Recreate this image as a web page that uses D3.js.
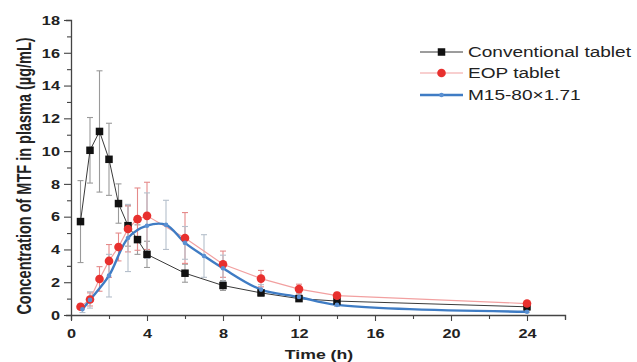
<!DOCTYPE html>
<html>
<head>
<meta charset="utf-8">
<script src="https://cdn.jsdelivr.net/npm/d3@7"></script>
<style>
  html, body { margin: 0; padding: 0; background: #fff; }
  svg { display: block; }
  text { font-family: "Liberation Sans", Arial, sans-serif; fill: #222; }
</style>
</head>
<body>
<svg id="chart" width="637" height="362"></svg>
<script>
// Plasma MTF concentration–time profiles (mean ± SD)
const convTime = [0.5, 1, 1.5, 2, 2.5, 3, 3.5, 4, 6, 8, 10, 12, 14, 24];
const convMean = [5.7, 10.05, 11.2, 9.5, 6.8, 5.45, 4.6, 3.7, 2.55, 1.8, 1.35, 1.0, 0.85, 0.5];
const convSD   = [2.5, 2.0, 3.7, 2.2, 1.2, 1.25, 0.9, 0.8, 0.55, 0.3, 0.2, 0.15, 0.15, 0.1];

const eopTime = [0.5, 1, 1.5, 2, 2.5, 3, 3.5, 4, 6, 8, 10, 12, 14, 24];
const eopMean = [0.5, 0.95, 2.2, 3.3, 4.15, 5.25, 5.85, 6.05, 4.7, 3.1, 2.22, 1.58, 1.18, 0.7];
const eopSD   = [0.15, 0.4, 0.75, 1.0, 0.85, 1.4, 1.9, 2.05, 1.55, 0.8, 0.5, 0.3, 0.2, 0.1];

const mTime = [0.6, 1, 2, 3, 4, 5, 6, 7, 8, 10, 12, 14, 24];
const mMean = [0.35, 0.92, 2.4, 4.7, 5.45, 5.5, 4.4, 3.6, 2.85, 1.55, 1.1, 0.62, 0.2];
const mSD   = [0.2, 0.5, 1.3, 2.05, 2.0, 1.5, 1.0, 1.3, 0.8, 0.3, 0.2, 0.1, 0.05];

const xMajorTicks = [0, 4, 8, 12, 16, 20, 24];
const yMajorTicks = [0, 2, 4, 6, 8, 10, 12, 14, 16, 18];
const seriesNames = ["Conventional tablet", "EOP tablet", "M15-80\u00d71.71"];

const svg = d3.select("#chart");
const SX = 1.36; // horizontal text stretch

const x = d3.scaleLinear().domain([0, 26]).range([71, 565]);
const y = d3.scaleLinear().domain([0, 18]).range([315, 20]);

function zip(t, m, s) { return t.map((d, i) => ({ t: d, m: m[i], s: s[i] })); }

const series = [
  { name: seriesNames[0], data: zip(convTime, convMean, convSD), line: "#3a3a3a", lw: 1,
    err: "#9a9a9a", fill: "#111", shape: "square", size: 7.5, curve: d3.curveLinear },
  { name: seriesNames[1], data: zip(eopTime, eopMean, eopSD), line: "#f2a0a0", lw: 1.2,
    err: "#e58a8a", fill: "#e8302e", shape: "circle", size: 4.3, curve: d3.curveLinear },
  { name: seriesNames[2], data: zip(mTime, mMean, mSD), line: "#3f7cc4", lw: 2.4,
    err: "#b5bfcb", fill: "#5a90d2", shape: "circle", size: 2.3, curve: d3.curveCatmullRom.alpha(0.5) }
];

// Axes
const xAxis = d3.axisBottom(x).tickValues(d3.range(0, 27, 2)).tickSize(5)
  .tickFormat(d => xMajorTicks.includes(d) ? d : "");
const gx = svg.append("g").attr("transform", "translate(0,315)").call(xAxis);
gx.selectAll(".tick line").attr("y2", d => xMajorTicks.includes(d) ? 6 : 4);

const yAxis = d3.axisLeft(y).tickValues(d3.range(0, 19, 1)).tickSize(5)
  .tickFormat(d => yMajorTicks.includes(d) ? d : "");
const gy = svg.append("g").attr("transform", "translate(71,0)").call(yAxis);
gy.selectAll(".tick line").attr("x2", d => yMajorTicks.includes(d) ? -7 : -4);

[gx, gy].forEach(g => {
  g.select(".domain").attr("stroke", "#444").attr("stroke-width", 1.3);
  g.selectAll(".tick line").attr("stroke", "#444").attr("stroke-width", 1.1);
  g.selectAll(".tick text").attr("font-size", 12).attr("font-weight", "bold")
    .attr("fill", "#2a2a2a").style("font-family", "'Liberation Sans', Arial, sans-serif");
});
gx.selectAll(".tick text").attr("y", 0).attr("dy", 0)
  .attr("transform", "translate(0,23) scale(" + SX + ",1)");
gy.selectAll(".tick text").attr("x", 0).attr("dy", "0.36em")
  .attr("transform", "translate(-11,0) scale(" + SX + ",1)");

// Error bars
series.forEach(s => {
  const g = svg.append("g");
  s.data.forEach(d => {
    const xc = x(d.t), y1 = y(d.m + d.s), y0 = y(d.m - d.s);
    g.append("line").attr("x1", xc).attr("x2", xc).attr("y1", y1).attr("y2", y0)
      .attr("stroke", s.err).attr("stroke-width", 1.1);
    [y1, y0].forEach(yy => g.append("line").attr("x1", xc - 3).attr("x2", xc + 3)
      .attr("y1", yy).attr("y2", yy).attr("stroke", s.err).attr("stroke-width", 1.1));
  });
});

// Lines
series.forEach(s => {
  const line = d3.line().x(d => x(d.t)).y(d => y(d.m)).curve(s.curve);
  svg.append("path").datum(s.data).attr("d", line)
    .attr("fill", "none").attr("stroke", s.line).attr("stroke-width", s.lw);
});

// Markers
function marker(g, s, cx, cy) {
  if (s.shape === "square") {
    g.append("rect").attr("x", cx - s.size / 2).attr("y", cy - s.size / 2)
      .attr("width", s.size).attr("height", s.size).attr("fill", s.fill);
  } else {
    g.append("circle").attr("cx", cx).attr("cy", cy).attr("r", s.size).attr("fill", s.fill);
  }
}
series.forEach(s => {
  const g = svg.append("g");
  s.data.forEach(d => marker(g, s, x(d.t), y(d.m)));
});

// Legend
const legY = [52, 73, 95];
series.forEach((s, i) => {
  const g = svg.append("g");
  g.append("line").attr("x1", 420).attr("x2", 463).attr("y1", legY[i]).attr("y2", legY[i])
    .attr("stroke", s.line).attr("stroke-width", s.lw);
  marker(g, s, 441.5, legY[i]);
  g.append("text").attr("transform", `translate(468,${legY[i] + 5}) scale(${SX},1)`)
    .attr("font-size", 14).attr("fill", "#222").text(s.name);
});

// Axis titles
svg.append("text").attr("transform", `translate(319,359) scale(${SX},1)`)
  .attr("text-anchor", "middle").attr("font-size", 13).attr("font-weight", "bold")
  .text("Time (h)");
svg.append("text").attr("transform", `translate(31,176) scale(${SX},1) rotate(-90)`)
  .attr("text-anchor", "middle").attr("font-size", 14.5).attr("font-weight", "bold")
  .text("Concentration of MTF in plasma (\u00b5g/mL)");
</script>
</body>
</html>
